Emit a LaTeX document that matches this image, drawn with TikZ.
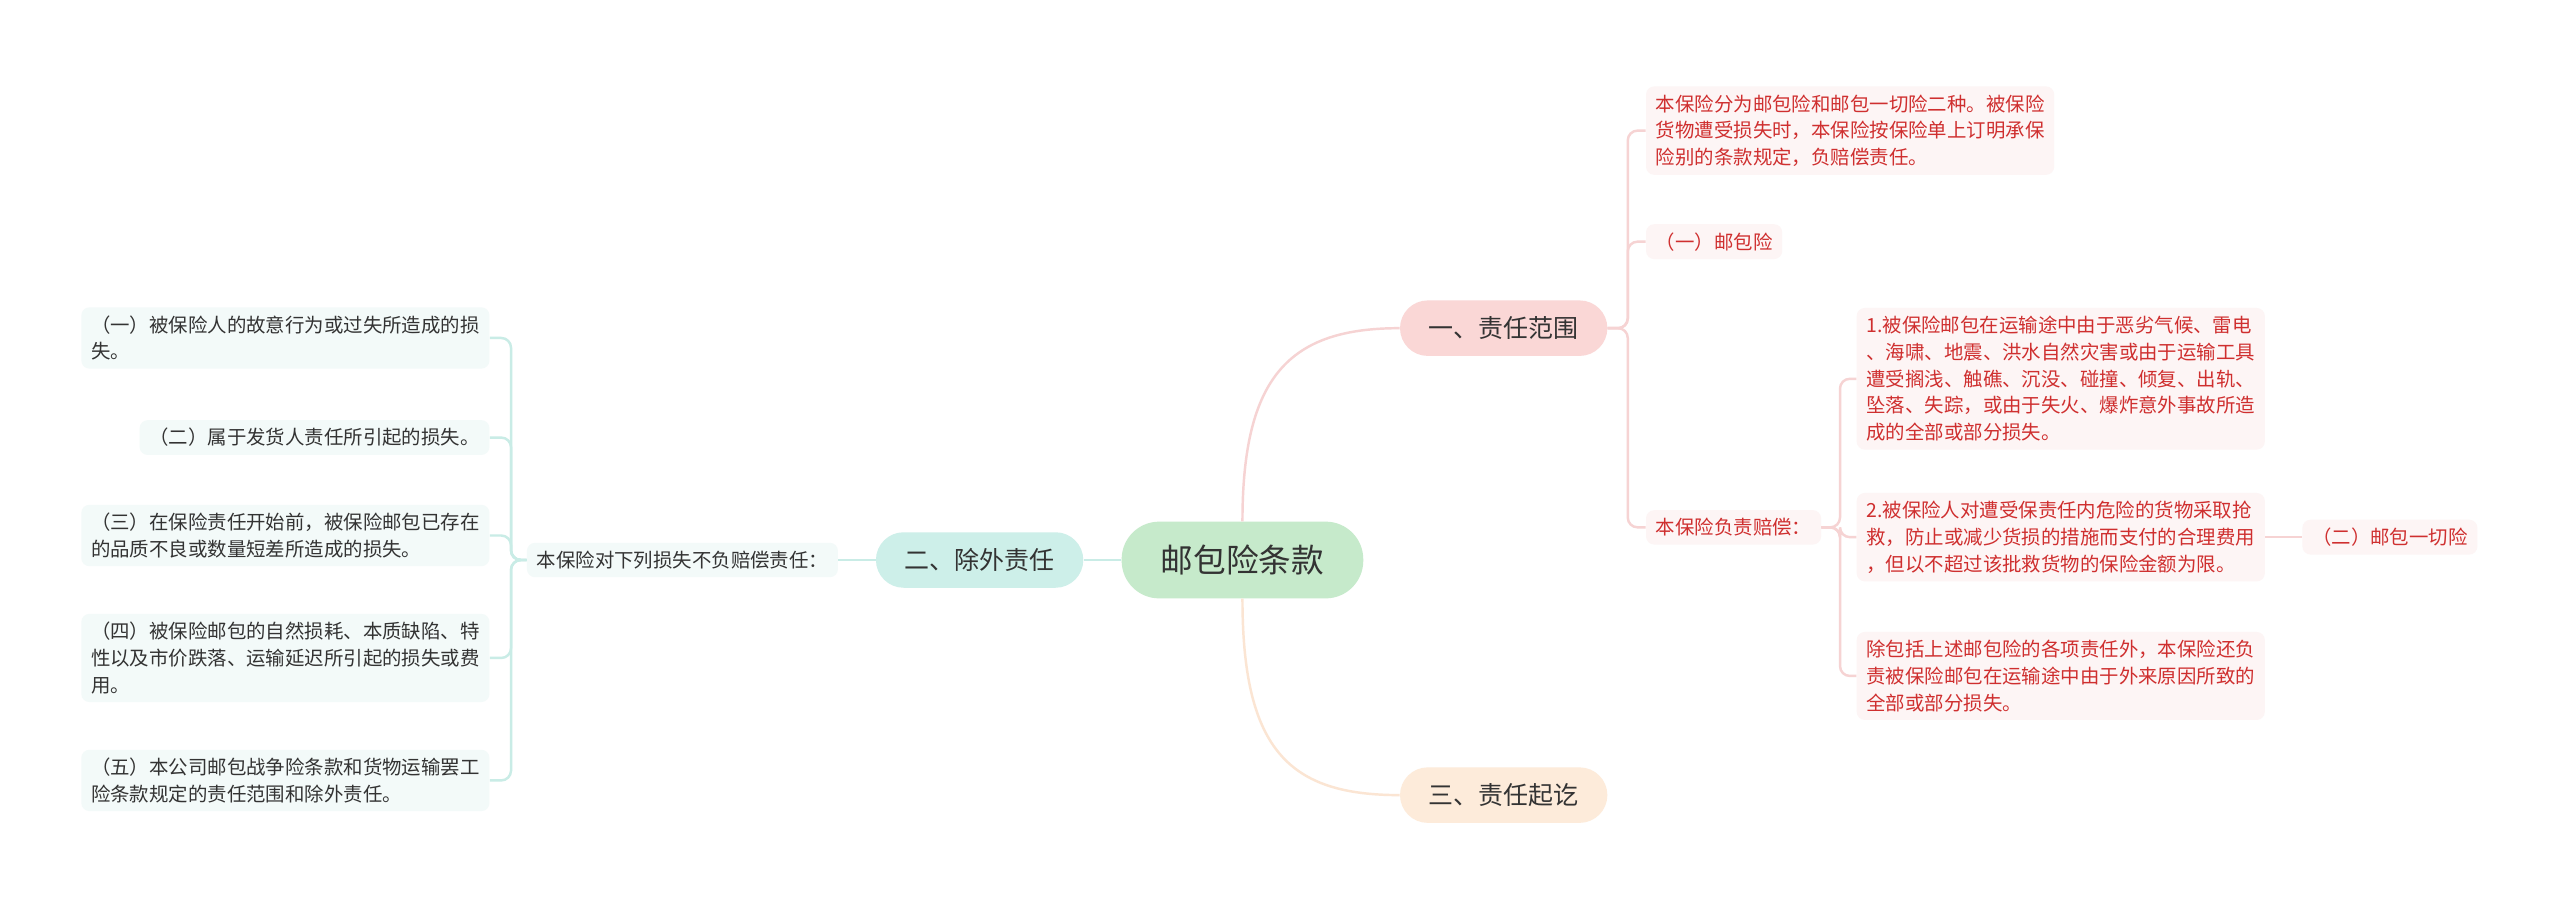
\documentclass[tikz,border=0pt]{standalone}
\usepackage{fontspec}
\setmainfont{Noto Sans CJK SC}
\usetikzlibrary{positioning}

\definecolor{rootfill}{HTML}{C6EACB}
\definecolor{pinkfill}{HTML}{FAD7D6}
\definecolor{pinkline}{HTML}{F6D3D3}
\definecolor{pinkbox}{HTML}{FDF5F5}
\definecolor{redtext}{HTML}{CF2F2F}
\definecolor{tealfill}{HTML}{CDEFE9}
\definecolor{tealline}{HTML}{C9ECE6}
\definecolor{tealbox}{HTML}{F3FAF9}
\definecolor{graytext}{HTML}{333333}
\definecolor{peachfill}{HTML}{FDEBDA}
\definecolor{peachline}{HTML}{FBE5D3}

\tikzset{
  rootbox/.style={fill=rootfill, rounded corners=23pt, minimum width=148pt, minimum height=47pt,
    font=\fontsize{20}{24}\selectfont, text=graytext},
  topic/.style={rounded corners=17pt, minimum width=127pt, minimum height=34pt,
    font=\fontsize{15.3}{18}\selectfont, text=graytext},
  detail/.style={rounded corners=5pt, inner xsep=6pt, inner ysep=5pt, align=left,
    font=\fontsize{11.9}{16.4}\selectfont},
  rdetail/.style={detail, fill=pinkbox, text=redtext},
  ldetail/.style={detail, fill=tealbox, text=graytext},
  pline/.style={draw=pinkline, line width=1.5pt},
  tline/.style={draw=tealline, line width=1.5pt},
  oline/.style={draw=peachline, line width=1.5pt}
}

\begin{document}
\begin{tikzpicture}[x=1pt,y=-1pt]

    % Page frame
    \fill[white] (0,0) rectangle (1568,555);
    \useasboundingbox (0,0) rectangle (1568,555);

    % Root and the three topics
    \node[rootbox] (root) at (761,343) {邮包险条款};
    \node[topic, fill=pinkfill] (scope) at (921,201) {一、责任范围};
    \node[topic, fill=tealfill] (excl) at (600,343) {二、除外责任};
    \node[topic, fill=peachfill] (period) at (921,487) {三、责任起讫};

    % Right side: details of the scope
    \node[rdetail, anchor=west] (intro) at (1008,80)
      {本保险分为邮包险和邮包一切险二种。被保险\\货物遭受损失时，本保险按保险单上订明承保\\险别的条款规定，负赔偿责任。};
    \node[rdetail, anchor=west] (basic) at (1008,148) {（一）邮包险};
    \node[rdetail, anchor=west] (cover) at (1008,323) {本保险负责赔偿：};
    \node[rdetail, anchor=west] (cover1) at (1137,232)
      {1.被保险邮包在运输途中由于恶劣气候、雷电\\、海啸、地震、洪水自然灾害或由于运输工具\\遭受搁浅、触礁、沉没、碰撞、倾复、出轨、\\坠落、失踪，或由于失火、爆炸意外事故所造\\成的全部或部分损失。};
    \node[rdetail, anchor=west] (cover2) at (1137,329)
      {2.被保险人对遭受保责任内危险的货物采取抢\\救，防止或减少货损的措施而支付的合理费用\\，但以不超过该批救货物的保险金额为限。};
    \node[rdetail, anchor=west] (cover3) at (1137,414)
      {除包括上述邮包险的各项责任外，本保险还负\\责被保险邮包在运输途中由于外来原因所致的\\全部或部分损失。};
    \node[rdetail, anchor=west] (allrisk) at (1410,329) {（二）邮包一切险};

    % Left side: exclusions
    \node[ldetail] (exmsg) at (418,343) {本保险对下列损失不负赔偿责任：};
    \node[ldetail, anchor=east] (ex1) at (300,207)
      {（一）被保险人的故意行为或过失所造成的损\\失。};
    \node[ldetail, anchor=east] (ex2) at (300,268) {（二）属于发货人责任所引起的损失。};
    \node[ldetail, anchor=east] (ex3) at (300,328)
      {（三）在保险责任开始前，被保险邮包已存在\\的品质不良或数量短差所造成的损失。};
    \node[ldetail, anchor=east] (ex4) at (300,403)
      {（四）被保险邮包的自然损耗、本质缺陷、特\\性以及市价跌落、运输延迟所引起的损失或费\\用。};
    \node[ldetail, anchor=east] (ex5) at (300,478)
      {（五）本公司邮包战争险条款和货物运输罢工\\险条款规定的责任范围和除外责任。};

    % Branch points
    \coordinate (bscope) at (997,201);
    \coordinate (bcover) at (1127,323);
    \coordinate (bexcl) at (313,343);

    % Connectors from the root
    \draw[pline] (root.north) .. controls (761,230) and (790,201) .. (scope.west);
    \draw[oline] (root.south) .. controls (761,460) and (790,487) .. (period.west);
    \draw[tline] (root.west) -- (excl.east);

    % Right connectors
    \foreach \n in {intro,basic,cover}
      \draw[pline, rounded corners=6pt] (scope.east) -- (bscope) |- (\n.west);
    \foreach \n in {cover1,cover2,cover3}
      \draw[pline, rounded corners=6pt] (cover.east) -- (bcover) |- (\n.west);
    \draw[pline] (cover2.east) -- (allrisk.west);

    % Left connectors
    \draw[tline] (excl.west) -- (exmsg.east);
    \foreach \n in {ex1,ex2,ex3,ex4,ex5}
      \draw[tline, rounded corners=6pt] (exmsg.west) -- (bexcl) |- (\n.east);

\end{tikzpicture}
\end{document}
